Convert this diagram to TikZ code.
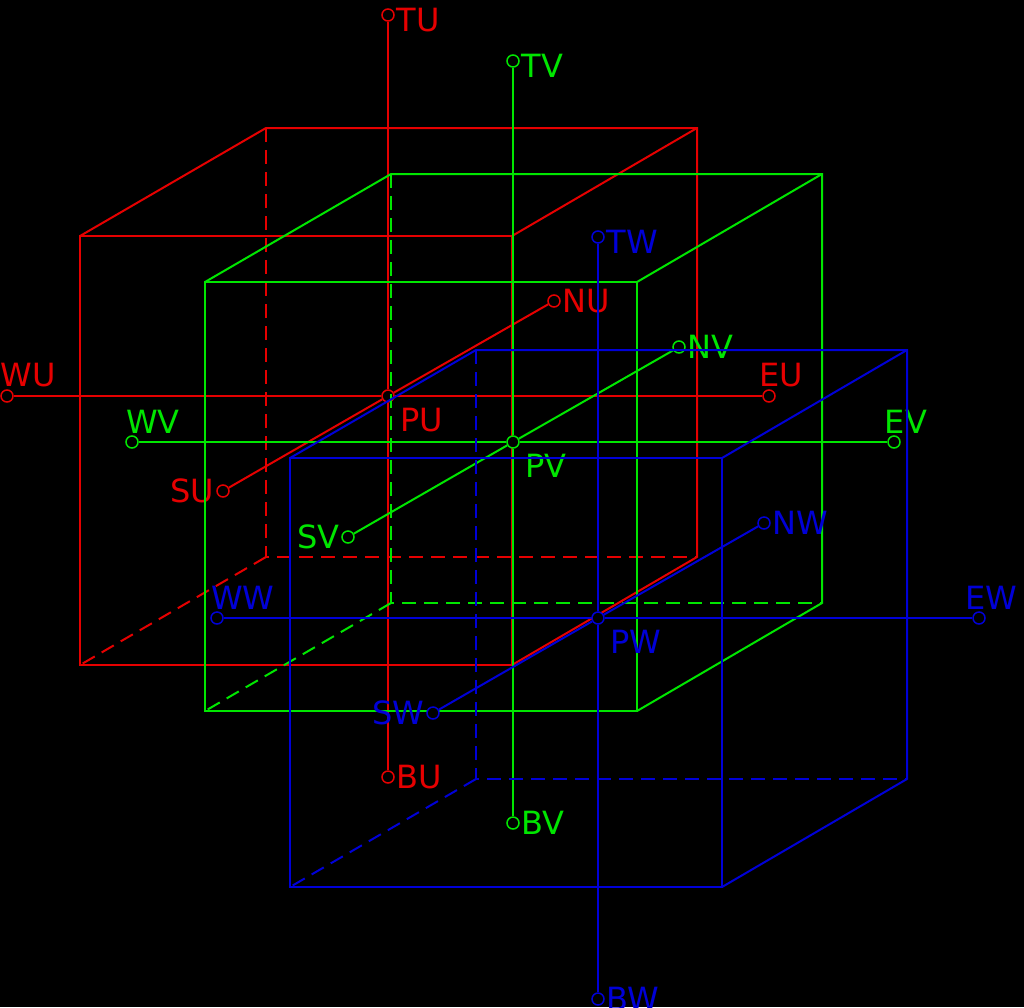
\documentclass[tikz,border=0pt]{standalone}
\usepackage{fontspec}
\setmainfont{DejaVu Sans}
\definecolor{cubered}{RGB}{230,0,0}
\definecolor{cubegreen}{RGB}{0,230,0}
\definecolor{cubeblue}{RGB}{0,0,215}
\begin{document}
\begin{tikzpicture}[x=1pt,y=-1pt,
  font=\fontsize{32}{38}\selectfont,
  end/.style={circle, draw, fill=black, inner sep=0pt, minimum size=12pt, line width=1.5pt},
  hidden/.style={dash pattern=on 14pt off 8pt},
  every label/.style={inner sep=1pt}, label distance=0pt]
\useasboundingbox (0,0) rectangle (1024,1007);
\fill[black] (0,0) rectangle (1024,1007);

% one cube per colour
\foreach \n/\dx/\dy/\c in {U/0/0/cubered, V/125/46/cubegreen, W/210/222/cubeblue}{
  \begin{scope}[shift={(\dx,\dy)}, draw=\c, line width=2pt]
    % faces
    \draw (80,236) rectangle (512,665);
    \draw (80,236) -- (266,128) -- (697,128) -- (697,557) -- (512,665);
    \draw (512,236) -- (697,128);
    \draw[hidden] (266,128) -- (266,557) -- (697,557);
    \draw[hidden] (266,557) -- (80,665);
    % axis ends
    \node[end, label={[\c, label distance=8pt]below right:P\n}] (p\n) at (388,396) {};
    \node[end, label={[\c, yshift=-5pt]right:T\n}] (t\n) at (388,15) {};
    \node[end, label={[\c]right:B\n}] (b\n) at (388,777) {};
    \node[end, label={[\c, anchor=south west, xshift=-8pt]above:W\n}] (w\n) at (7,396) {};
    \node[end, label={[\c, xshift=12pt]above:E\n}] (e\n) at (769,396) {};
    \node[end, label={[\c]right:N\n}] (n\n) at (554,301) {};
    \node[end, label={[\c]left:S\n}] (s\n) at (223,491) {};
    % axes
    \draw (t\n) -- (p\n) -- (b\n);
    \draw (w\n) -- (p\n) -- (e\n);
    \draw (s\n) -- (p\n) -- (n\n);
  \end{scope}
}
\end{tikzpicture}
\end{document}
